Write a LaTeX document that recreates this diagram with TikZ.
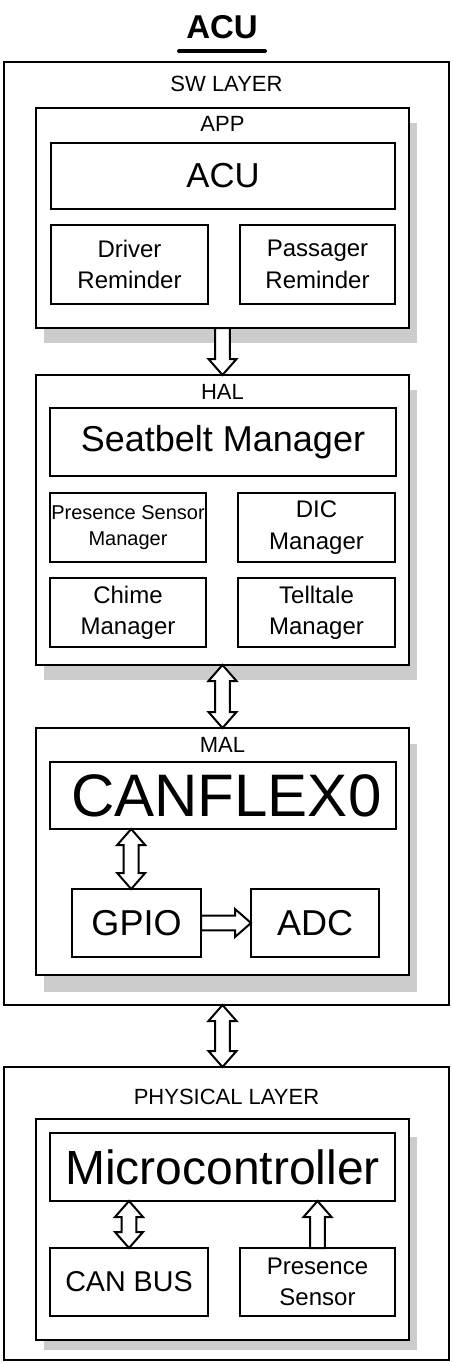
\documentclass[tikz,border=0pt]{standalone}
\usepackage{fontspec}
\setmainfont{Liberation Sans}
\usepackage{tikz}
\usepackage{xcolor}
\usetikzlibrary{calc}

\tikzset{
  blk/.style={draw, line width=1.5pt, fill=white, inner sep=0pt, outer sep=0pt, align=center},
  lbl/.style={inner sep=0pt, anchor=base, font=\fontsize{16.5}{19}\selectfont},
  txtm/.style={font=\fontsize{18}{23.5}\selectfont},
  shadowfill/.style={fill=black!20},
  fatarrow/.style={draw, fill=white, line width=1.5pt, line join=miter,
    to path={
      ($(\tikztostart)!5.6pt!90:(\tikztotarget)$)
      -- ($($(\tikztotarget)!12pt!(\tikztostart)$)!5.6pt!90:(\tikztotarget)$)
      -- ($($(\tikztotarget)!12pt!(\tikztostart)$)!10.5pt!90:(\tikztotarget)$)
      -- (\tikztotarget)
      -- ($($(\tikztotarget)!12pt!(\tikztostart)$)!10.5pt!-90:(\tikztotarget)$)
      -- ($($(\tikztotarget)!12pt!(\tikztostart)$)!5.6pt!-90:(\tikztotarget)$)
      -- ($(\tikztostart)!5.6pt!-90:(\tikztotarget)$)
      -- cycle}},
  dblarrow/.style={draw, fill=white, line width=1.5pt, line join=miter,
    to path={
      -- ($($(\tikztostart)!12pt!(\tikztotarget)$)!10.5pt!90:(\tikztotarget)$)
      -- ($($(\tikztostart)!12pt!(\tikztotarget)$)!5.6pt!90:(\tikztotarget)$)
      -- ($($(\tikztotarget)!12pt!(\tikztostart)$)!5.6pt!90:(\tikztotarget)$)
      -- ($($(\tikztotarget)!12pt!(\tikztostart)$)!10.5pt!90:(\tikztotarget)$)
      -- (\tikztotarget)
      -- ($($(\tikztotarget)!12pt!(\tikztostart)$)!10.5pt!-90:(\tikztotarget)$)
      -- ($($(\tikztotarget)!12pt!(\tikztostart)$)!5.6pt!-90:(\tikztotarget)$)
      -- ($($(\tikztostart)!12pt!(\tikztotarget)$)!5.6pt!-90:(\tikztotarget)$)
      -- ($($(\tikztostart)!12pt!(\tikztotarget)$)!10.5pt!-90:(\tikztotarget)$)
      -- cycle}}
}

\begin{document}
\begin{tikzpicture}[x=0.75pt,y=0.75pt,yscale=-1,xscale=1]
\useasboundingbox (0,0) rectangle (453,1363);

% Title
\node[inner sep=0pt, anchor=base, font=\bfseries\fontsize{24.75}{28}\selectfont] (title) at (222,39) {ACU};
\draw[line width=3pt, line cap=round] (179,51) -- (265,51);

%Shape: outer layers
\node[blk, minimum width=333.75pt, minimum height=707.25pt] (sw) at (226.5,533.5) {};
\node[blk, minimum width=333.75pt, minimum height=219.75pt] (phys) at (226.5,1213.5) {};
\node[lbl] (swlbl) at (226.5,92) {SW LAYER};
\node[lbl] (physlbl) at (226.5,1104) {PHYSICAL LAYER};

%Shape: shadows
\fill[shadowfill] (44,123) rectangle (417,343);
\fill[shadowfill] (44,390) rectangle (417,680);
\fill[shadowfill] (44,744) rectangle (417,992);
\fill[shadowfill] (44,1137) rectangle (417,1350);

%Shape: APP
\node[blk, minimum width=279.75pt, minimum height=165pt] (app) at (222.5,218) {};
\node[lbl] (applbl) at (222.5,132) {APP};
\node[blk, minimum width=258pt, minimum height=49.5pt, font=\fontsize{26}{30}\selectfont] (acu) at (223,176) {ACU};
\node[blk, txtm, minimum width=117.75pt, minimum height=59.25pt] (drv) at (129.5,264.5) {Driver\\Reminder};
\node[blk, txtm, minimum width=116.25pt, minimum height=59.25pt] (pas) at (317.5,264.5) {Passager\\Reminder};

%Shape: HAL
\node[blk, minimum width=279.75pt, minimum height=217.5pt] (hal) at (222.5,520) {};
\node[lbl] (hallbl) at (222.5,399) {HAL};
\node[blk, minimum width=259.5pt, minimum height=51pt, font=\fontsize{27}{31}\selectfont] (seat) at (223,442) {Seatbelt Manager};
\node[blk, minimum width=117pt, minimum height=51.75pt, font=\fontsize{15}{20}\selectfont] (psm) at (128,527.5) {Presence Sensor\\Manager};
\node[blk, txtm, minimum width=117.75pt, minimum height=51.75pt] (dic) at (316.5,527.5) {DIC\\Manager};
\node[blk, txtm, minimum width=117pt, minimum height=51.75pt] (chime) at (128,612.5) {Chime\\Manager};
\node[blk, txtm, minimum width=117.75pt, minimum height=51.75pt] (tell) at (316.5,612.5) {Telltale\\Manager};

%Shape: MAL
\node[blk, minimum width=279.75pt, minimum height=185.25pt] (mal) at (222.5,851.5) {};
\node[lbl] (mallbl) at (222.5,752) {MAL};
\node[blk, minimum width=259.5pt, minimum height=50.25pt, font=\fontsize{45}{50}\selectfont] (can0) at (223,795.5) {\hspace*{5pt}CANFLEX0};
\node[blk, minimum width=96.75pt, minimum height=51pt, font=\fontsize{27}{31}\selectfont] (gpio) at (136.5,923) {GPIO};
\node[blk, minimum width=96pt, minimum height=51pt, font=\fontsize{27}{31}\selectfont] (adc) at (315,923) {ADC};

%Shape: physical
\node[blk, minimum width=279.75pt, minimum height=165.75pt] (physin) at (222.5,1229.5) {};
\node[blk, minimum width=258.75pt, minimum height=51pt, font=\fontsize{36}{40}\selectfont] (micro) at (222.5,1167) {Microcontroller};
\node[blk, minimum width=118.5pt, minimum height=51pt, font=\fontsize{21.5}{25}\selectfont] (canbus) at (129,1282) {CAN BUS};
\node[blk, txtm, minimum width=116.25pt, minimum height=51pt] (pres) at (317.5,1282) {Presence\\Sensor};

%Arrows
\coordinate (gpiotop) at ([xshift=-4pt]gpio.north);
\draw[fatarrow] (app.south) to (hal.north);
\draw[dblarrow] (hal.south) to (mal.north);
\draw[dblarrow] (gpiotop |- can0.south) to (gpiotop);
\draw[fatarrow] (gpio.east) to (adc.west);
\draw[dblarrow] (hal.south |- sw.south) to (hal.south |- phys.north);
\draw[dblarrow] (micro.south -| canbus.north) to (canbus.north);
\draw[fatarrow] (pres.north) to (pres.north |- micro.south);

\end{tikzpicture}
\end{document}
